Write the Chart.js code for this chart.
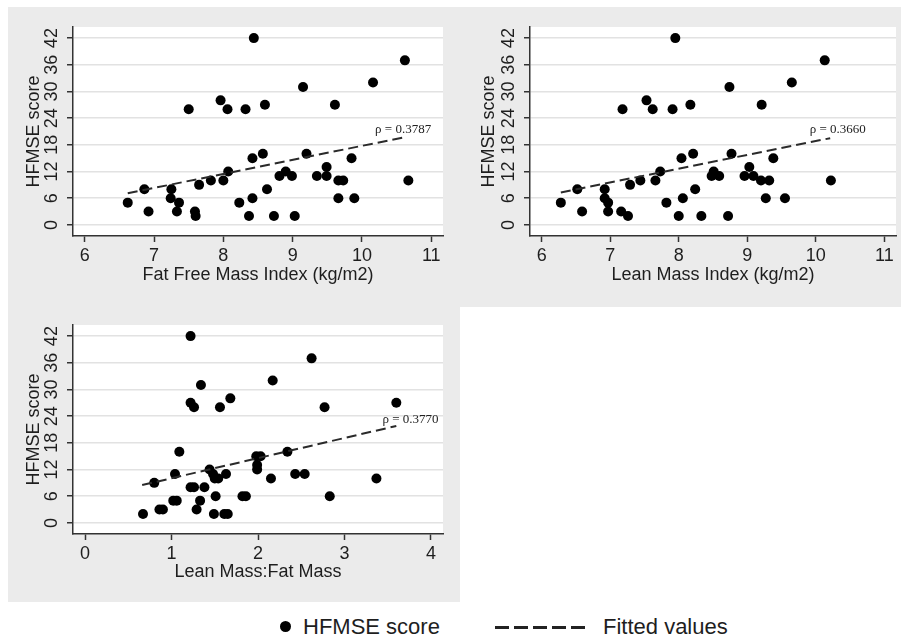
<!DOCTYPE html>
<html>
<head>
<meta charset="utf-8">
<script src="https://cdn.jsdelivr.net/npm/chart.js@4.4.0/dist/chart.umd.min.js"></script>
<style>
  body { margin:0; background:#fff; width:901px; height:642px; position:relative; overflow:hidden; font-family:"Liberation Sans", Arial, sans-serif; }
  .bg { position:absolute; background:#ebebeb; }
  canvas { position:absolute; }
  .leg { position:absolute; font-size:22px; line-height:30px; color:#1e1e1e; white-space:nowrap; }
  #legDot { position:absolute; left:280px; top:621px; width:11px; height:11px; border-radius:50%; background:#000; }
  #legDash { position:absolute; left:495px; top:626px; width:90px; height:3px;
    background:repeating-linear-gradient(to right, #222 0 14px, transparent 14px 19px); }
</style>
</head>
<body>
<div class="bg" style="left:8px;top:7px;width:893px;height:300px"></div>
<div class="bg" style="left:8px;top:307px;width:452px;height:295px"></div>
<canvas id="c1" width="447" height="300" style="left:8px;top:7px"></canvas>
<canvas id="c2" width="446" height="300" style="left:455px;top:7px"></canvas>
<canvas id="c3" width="452" height="295" style="left:8px;top:307px"></canvas>
<div id="legDot"></div>
<div class="leg" style="left:303px;top:612px">HFMSE score</div>
<div id="legDash"></div>
<div class="leg" style="left:603px;top:612px">Fitted values</div>

<script>
// valores
const yTicks = [0, 6, 12, 18, 24, 30, 36, 42];
const xTicksIndex = [6, 7, 8, 9, 10, 11];
const xTicksRatio = [0, 1, 2, 3, 4];

const ffmi = [6.62,6.86,6.92,7.25,7.24,7.36,7.33,7.50,7.65,7.59,7.60,7.82,7.96,8.00,8.06,8.07,8.23,8.32,8.37,8.42,8.42,8.44,8.57,8.60,8.63,8.73,8.81,8.90,8.99,9.03,9.15,9.20,9.35,9.49,9.49,9.61,9.66,9.73,9.66,9.85,9.89,10.16,10.62,10.67];
const scoreFfmi = [5,8,3,8,6,5,3,26,9,3,2,10,28,10,26,12,5,26,2,6,15,42,16,27,8,2,11,12,11,2,31,16,11,13,11,27,10,10,6,15,6,32,37,10];

const lmi = [6.28,6.52,6.59,6.92,6.92,6.97,6.97,7.16,7.26,7.18,7.29,7.44,7.53,7.62,7.66,7.73,7.82,7.91,7.95,8.00,8.04,8.06,8.17,8.21,8.24,8.33,8.48,8.51,8.59,8.72,8.74,8.77,8.96,9.03,9.09,9.21,9.20,9.32,9.27,9.38,9.55,9.65,10.13,10.22];
const scoreLmi = [5,8,3,8,6,5,3,3,2,26,9,10,28,26,10,12,5,26,42,2,15,6,27,16,8,2,11,12,11,2,31,16,11,13,11,27,10,10,6,15,6,32,37,10];

const ratio = [0.67,0.80,0.86,0.90,1.02,1.06,1.04,1.09,1.22,1.26,1.22,1.22,1.26,1.29,1.34,1.33,1.38,1.44,1.48,1.50,1.54,1.49,1.51,1.56,1.63,1.61,1.65,1.68,1.82,1.86,1.98,2.03,1.99,1.99,2.15,2.17,2.34,2.43,2.54,2.62,2.77,2.83,3.37,3.60];
const scoreRatio = [2,9,3,3,5,5,11,16,8,8,42,27,26,3,31,5,8,12,11,10,10,2,6,26,11,2,2,28,6,6,15,15,13,12,10,32,16,11,11,37,26,6,10,27];

// linhas ajustadas (extremos)
const fitFfmiX = [6.62, 10.61], fitFfmiY = [7.1, 19.7];
const fitLmiX = [6.28, 10.21], fitLmiY = [7.3, 19.5];
const fitRatioX = [0.66, 3.60], fitRatioY = [8.5, 21.8];

const rhoText = ['ρ = 0.3787', 'ρ = 0.3660', 'ρ = 0.3770'];
const rhoPos = [[10.19, 21.5], [9.91, 21.5], [3.44, 23.3]];

const txt = '#1e1e1e';
const fam = '"Liberation Sans", Arial, sans-serif';

function toPoints(xs, ys) {
    return xs.map((x, i) => ({ x: x, y: ys[i] }));
}

function makePanel(id, p) {
    const plotBg = {
        id: 'plotBg',
        beforeDraw(chart) {
            const a = chart.chartArea;
            chart.ctx.save();
            chart.ctx.fillStyle = '#fff';
            chart.ctx.fillRect(a.left, a.top, a.right - a.left, a.bottom - a.top);
            chart.ctx.restore();
        }
    };
    const rhoLabel = {
        id: 'rhoLabel',
        afterDatasetsDraw(chart) {
            const ctx = chart.ctx;
            ctx.save();
            ctx.font = '13px "Liberation Serif", "Times New Roman", serif';
            ctx.fillStyle = '#222';
            ctx.textBaseline = 'middle';
            ctx.fillText(p.rho, chart.scales.x.getPixelForValue(p.rhoAt[0]), chart.scales.y.getPixelForValue(p.rhoAt[1]));
            ctx.restore();
        }
    };

    new Chart(document.getElementById(id), {
        type: 'scatter',
        data: {
            datasets: [
                {
                    label: 'Fitted values',
                    data: toPoints(p.fitX, p.fitY),
                    showLine: true,
                    borderColor: '#2a2a2a',
                    borderWidth: 2,
                    borderDash: [10, 5],
                    pointRadius: 0
                },
                {
                    label: 'HFMSE score',
                    data: toPoints(p.xs, p.ys),
                    backgroundColor: '#000',
                    borderWidth: 0,
                    pointRadius: 5
                }
            ]
        },
        options: {
            responsive: false,
            animation: false,
            layout: { padding: p.pad },
            plugins: { legend: { display: false }, tooltip: { enabled: false } },
            scales: {
                x: {
                    type: 'linear',
                    min: p.xMin, max: p.xMax,
                    afterBuildTicks: s => { s.ticks = p.xTicks.map(v => ({ value: v })); },
                    afterFit: s => { s.height = p.xH; },
                    grid: { drawOnChartArea: false, tickLength: 6, tickColor: '#333', tickWidth: 1.5 },
                    border: { color: '#333', width: 1.5 },
                    ticks: { color: txt, font: { size: 18, family: fam }, padding: 3, maxRotation: 0 },
                    title: { display: true, text: p.xTitle, color: txt, font: { size: 18, family: fam }, padding: { top: 0, bottom: p.xTitlePad } }
                },
                y: {
                    type: 'linear',
                    min: -2.5, max: 44.5,
                    afterBuildTicks: s => { s.ticks = yTicks.map(v => ({ value: v })); },
                    afterFit: s => { s.width = p.yW; },
                    grid: { color: '#e2e2e2', lineWidth: 1.5, tickLength: 6, tickColor: '#333', tickWidth: 1.5 },
                    border: { color: '#333', width: 1.5 },
                    ticks: { color: txt, font: { size: 18, family: fam }, padding: 5, minRotation: 90, maxRotation: 90, crossAlign: 'center' },
                    title: { display: true, text: 'HFMSE score', color: txt, font: { size: 18, family: fam }, padding: { top: 15, bottom: 0 } }
                }
            }
        },
        plugins: [plotBg, rhoLabel]
    });
}

makePanel('c1', {
    xs: ffmi, ys: scoreFfmi, fitX: fitFfmiX, fitY: fitFfmiY,
    xTicks: xTicksIndex, xMin: 5.83, xMax: 11.17, xTitle: 'Fat Free Mass Index (kg/m2)',
    rho: rhoText[0], rhoAt: rhoPos[0],
    pad: { left: 0, right: 12, top: 20, bottom: 0 }, yW: 65, xH: 71, xTitlePad: 21
});
makePanel('c2', {
    xs: lmi, ys: scoreLmi, fitX: fitLmiX, fitY: fitLmiY,
    xTicks: xTicksIndex, xMin: 5.83, xMax: 11.17, xTitle: 'Lean Mass Index (kg/m2)',
    rho: rhoText[1], rhoAt: rhoPos[1],
    pad: { left: 8, right: 1, top: 20, bottom: 0 }, yW: 67, xH: 71, xTitlePad: 21
});
makePanel('c3', {
    xs: ratio, ys: scoreRatio, fitX: fitRatioX, fitY: fitRatioY,
    xTicks: xTicksRatio, xMin: -0.14, xMax: 4.14, xTitle: 'Lean Mass:Fat Mass',
    rho: rhoText[2], rhoAt: rhoPos[2],
    pad: { left: 0, right: 17, top: 18, bottom: 0 }, yW: 65, xH: 68, xTitlePad: 19
});
</script>
</body>
</html>
